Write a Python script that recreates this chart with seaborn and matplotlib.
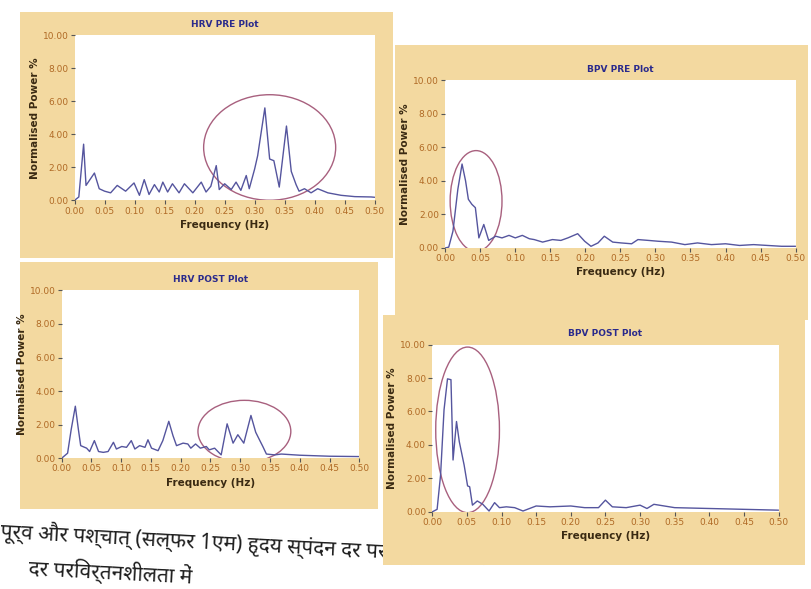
import seaborn as sns
import matplotlib.pyplot as plt
from matplotlib.patches import Ellipse, Rectangle

# HRV PRE plot
hrv_pre_freq = [0.000, 0.007, 0.015, 0.019, 0.033, 0.041, 0.050, 0.060, 0.071, 0.085,
                0.099, 0.108, 0.116, 0.124, 0.133, 0.141, 0.147, 0.155, 0.163, 0.174,
                0.183, 0.197, 0.211, 0.219, 0.227, 0.236, 0.241, 0.250, 0.261, 0.269,
                0.277, 0.286, 0.291, 0.300, 0.305, 0.317, 0.325, 0.332, 0.341, 0.353,
                0.361, 0.369, 0.374, 0.383, 0.394, 0.405, 0.422, 0.444, 0.467, 0.494, 0.500]
hrv_pre_power = [0.00, 0.20, 3.40, 0.90, 1.65, 0.70, 0.55, 0.45, 0.90, 0.55,
                 1.05, 0.30, 1.25, 0.35, 0.95, 0.50, 1.10, 0.50, 1.00, 0.45,
                 1.00, 0.45, 1.10, 0.50, 0.85, 2.10, 0.65, 1.00, 0.65, 1.10,
                 0.60, 1.50, 0.70, 1.90, 2.70, 5.60, 2.50, 2.40, 0.80, 4.50,
                 1.75, 0.95, 0.55, 0.70, 0.45, 0.70, 0.45, 0.30, 0.22, 0.20, 0.18]

# BPV PRE plot
bpv_pre_freq = [0.000, 0.005, 0.011, 0.018, 0.024, 0.029, 0.033, 0.038, 0.043, 0.048,
                0.055, 0.062, 0.072, 0.081, 0.091, 0.100, 0.110, 0.120, 0.127, 0.139,
                0.153, 0.165, 0.175, 0.189, 0.199, 0.208, 0.218, 0.227, 0.239, 0.251,
                0.266, 0.275, 0.290, 0.304, 0.323, 0.342, 0.360, 0.380, 0.400, 0.420,
                0.440, 0.460, 0.480, 0.500]
bpv_pre_power = [0.00, 0.05, 1.00, 3.50, 5.00, 4.00, 2.90, 2.60, 2.40, 0.60,
                 1.40, 0.45, 0.70, 0.60, 0.75, 0.60, 0.75, 0.55, 0.50, 0.35,
                 0.50, 0.45, 0.60, 0.85, 0.40, 0.10, 0.30, 0.70, 0.35, 0.30,
                 0.25, 0.50, 0.45, 0.40, 0.35, 0.20, 0.30, 0.20, 0.25, 0.15,
                 0.20, 0.15, 0.10, 0.10]

# HRV POST plot
hrv_post_freq = [0.000, 0.010, 0.016, 0.023, 0.028, 0.032, 0.042, 0.047, 0.055, 0.062,
                 0.070, 0.078, 0.087, 0.092, 0.101, 0.109, 0.117, 0.123, 0.131, 0.140,
                 0.145, 0.151, 0.162, 0.170, 0.180, 0.187, 0.193, 0.204, 0.212, 0.217,
                 0.225, 0.233, 0.243, 0.248, 0.257, 0.268, 0.278, 0.288, 0.296, 0.306,
                 0.318, 0.326, 0.333, 0.338, 0.344, 0.358, 0.369, 0.400, 0.450, 0.500]
hrv_post_power = [0.00, 0.30, 1.70, 3.10, 1.75, 0.75, 0.60, 0.40, 1.05, 0.40,
                  0.35, 0.40, 0.95, 0.55, 0.70, 0.65, 1.05, 0.55, 0.75, 0.65,
                  1.10, 0.60, 0.45, 1.05, 2.20, 1.35, 0.75, 0.90, 0.85, 0.60,
                  0.85, 0.60, 0.70, 0.50, 0.60, 0.20, 2.05, 0.90, 1.40, 0.90,
                  2.55, 1.55, 1.05, 0.70, 0.25, 0.20, 0.25, 0.18, 0.12, 0.10]

# BPV POST plot
bpv_post_freq = [0.000, 0.007, 0.012, 0.017, 0.022, 0.027, 0.029, 0.030, 0.035, 0.039,
                 0.046, 0.051, 0.054, 0.058, 0.065, 0.073, 0.082, 0.090, 0.097, 0.107,
                 0.119, 0.131, 0.150, 0.170, 0.200, 0.220, 0.240, 0.250, 0.260, 0.280,
                 0.300, 0.310, 0.320, 0.350, 0.400, 0.450, 0.500]
bpv_post_power = [0.00, 0.15, 2.20, 6.10, 7.95, 7.90, 4.70, 3.10, 5.40, 4.20,
                  2.80, 1.55, 1.50, 0.40, 0.65, 0.45, 0.05, 0.55, 0.25, 0.30,
                  0.25, 0.05, 0.35, 0.30, 0.35, 0.25, 0.25, 0.70, 0.30, 0.25,
                  0.40, 0.20, 0.45, 0.25, 0.20, 0.15, 0.10]

titles = ["HRV PRE Plot", "BPV PRE Plot", "HRV POST Plot", "BPV POST Plot"]
x_ticks = [0.00, 0.05, 0.10, 0.15, 0.20, 0.25, 0.30, 0.35, 0.40, 0.45, 0.50]
y_ticks = [0.0, 2.0, 4.0, 6.0, 8.0, 10.0]

caption_1 = "पूर्व और पश्चात् (सल्फर 1एम) हृदय स्पंदन दर परिवर्तनशीलता"
caption_2 = "दर परिवर्तनशीलता में"

sns.set_theme(style="white")
plt.rcParams["font.family"] = ["Liberation Sans Narrow", "DejaVu Sans"]

tan = "#f3d9a0"
line_col = "#55559e"
ring_col = "#a8607e"
tick_col = "#b06a25"

fig = plt.figure(figsize=(8.11, 5.89), dpi=100)

# caption sits on the page, under the photographed panels
cap_kw = dict(fontsize=15, rotation=-3, rotation_mode="anchor", ha="left", va="baseline",
              color="#1e1e1e", family=["Noto Sans", "DejaVu Sans"], zorder=0.5)
fig.text(0.0, 0.088, caption_1, **cap_kw)
fig.text(0.035, 0.025, caption_2, **cap_kw)

panels = [
    # panel rect, axes rect, data, ellipse (x, y, w, h)
    ((0.025, 0.562, 0.459, 0.418), (0.092, 0.66, 0.37, 0.28),
     hrv_pre_freq, hrv_pre_power, (0.325, 3.2, 0.22, 6.4)),
    ((0.487, 0.457, 0.509, 0.467), (0.549, 0.579, 0.432, 0.285),
     bpv_pre_freq, bpv_pre_power, (0.044, 2.8, 0.074, 6.0)),
    ((0.025, 0.135, 0.441, 0.42), (0.076, 0.222, 0.367, 0.285),
     hrv_post_freq, hrv_post_power, (0.307, 1.6, 0.156, 3.7)),
    ((0.472, 0.041, 0.52, 0.425), (0.533, 0.131, 0.427, 0.284),
     bpv_post_freq, bpv_post_power, (0.051, 4.9, 0.092, 9.9)),
]

for title, (prect, arect, fx, py, ell) in zip(titles, panels):
    fig.patches.append(Rectangle(prect[:2], prect[2], prect[3], transform=fig.transFigure,
                                 facecolor=tan, edgecolor="none", zorder=1))
    ax = fig.add_axes(arect)
    ax.set_zorder(2)
    sns.lineplot(x=fx, y=py, ax=ax, color=line_col, lw=1.0)
    ax.add_patch(Ellipse((ell[0], ell[1]), ell[2], ell[3], fill=False,
                         edgecolor=ring_col, lw=1.0))
    ax.set_xlim(0, 0.5)
    ax.set_ylim(0, 10)
    ax.set_xticks(x_ticks)
    ax.set_yticks(y_ticks)
    ax.set_xticklabels([f"{t:.2f}" for t in x_ticks])
    ax.set_yticklabels([f"{t:.2f}" for t in y_ticks])
    ax.tick_params(direction="out", length=3, width=0.8, color="#555555",
                   labelcolor=tick_col, labelsize=6.5, pad=1.5, left=True, bottom=True)
    for s in ax.spines.values():
        s.set_visible(False)
    ax.set_facecolor("white")
    ax.set_title(title, fontsize=6.5, fontweight="bold", color="#2a2a8c", pad=6)
    ax.set_xlabel("Frequency (Hz)", fontsize=7.5, fontweight="bold", color="#3a2a12", labelpad=3)
    ax.set_ylabel("Normalised Power %", fontsize=7.5, fontweight="bold", color="#3a2a12", labelpad=2)

plt.savefig("out.png", dpi=100, facecolor="white")
